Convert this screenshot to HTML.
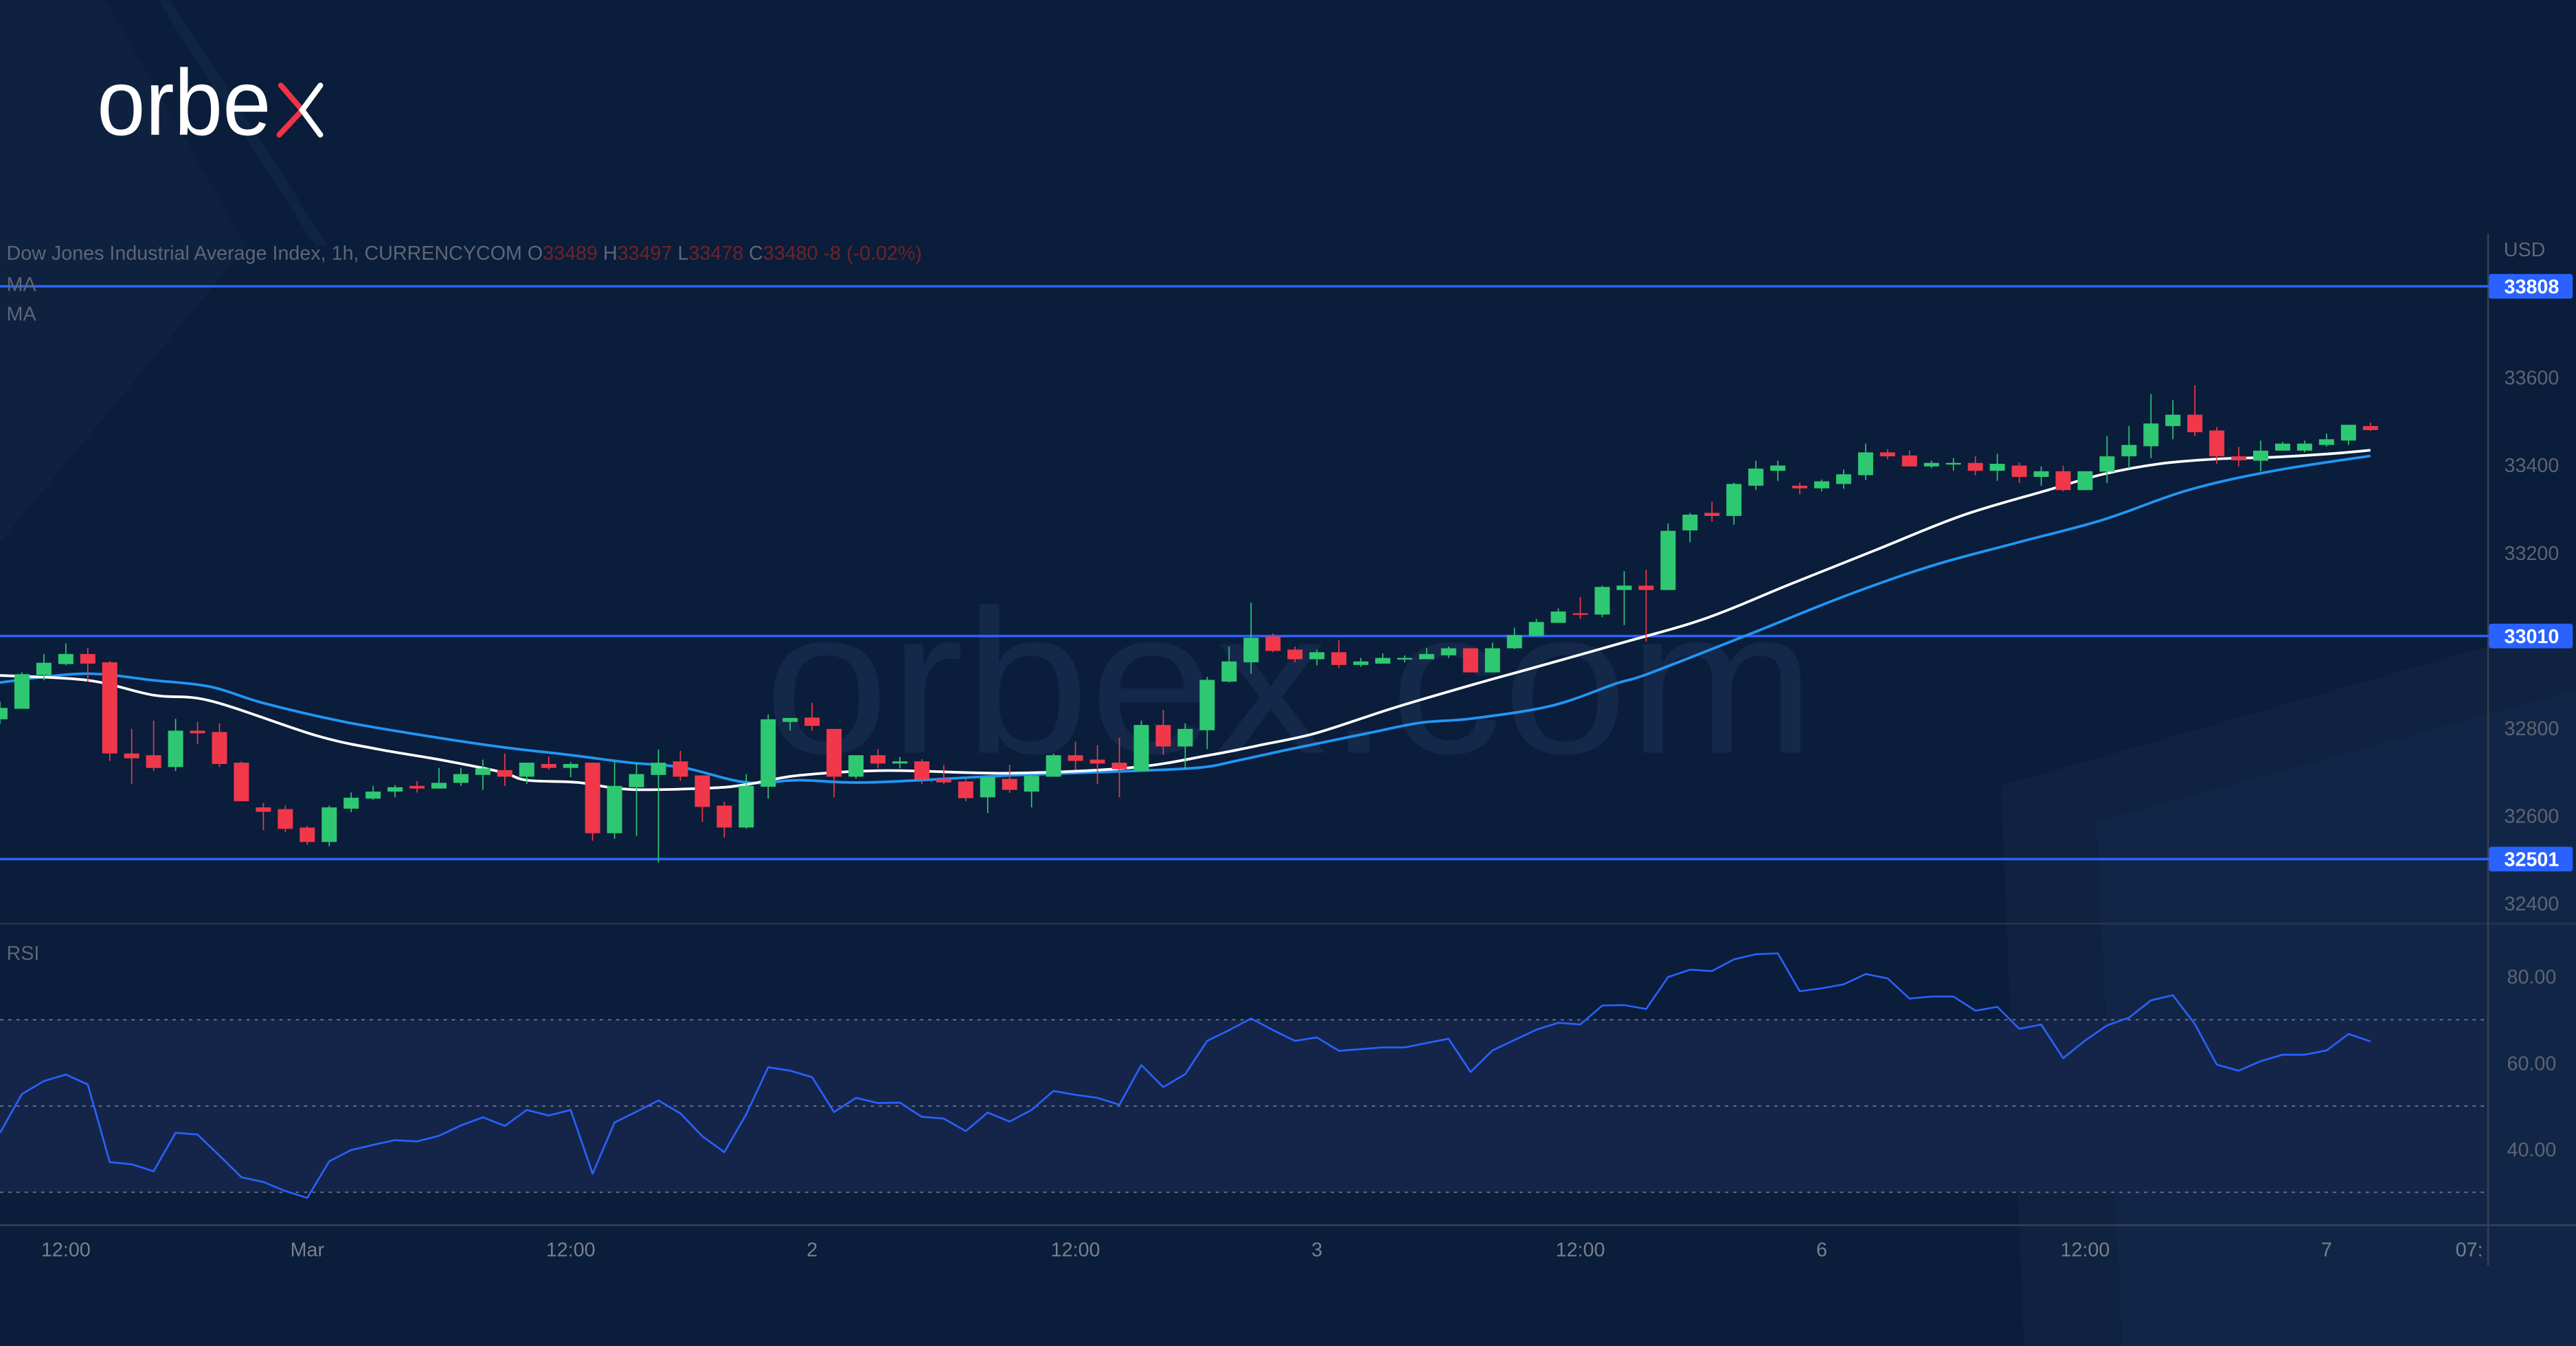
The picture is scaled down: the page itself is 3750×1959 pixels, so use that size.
<!DOCTYPE html>
<html><head><meta charset="utf-8"><title>Dow Jones 1h chart</title>
<style>
html,body{margin:0;padding:0;background:#0a1d3a;}
svg{display:block;}
text{font-family:"Liberation Sans","DejaVu Sans",sans-serif;}
</style></head>
<body>
<svg id="chart" width="3750" height="1959" viewBox="0 0 1568 819" preserveAspectRatio="none" xmlns="http://www.w3.org/2000/svg">
  <rect x="0" y="0" width="1568" height="819" fill="#0a1d3a"/>
  <g>
    <polygon points="0,0 64,0 150,150 0,330" fill="#0f2442" opacity="0.8"/>
    <polygon points="96,0 104,0 200,150 192,150" fill="#12284a" opacity="0.6"/>
    <polygon points="1218,478 1568,378 1568,819 1232,819" fill="#0f2340" opacity="0.9"/>
    <polygon points="1276,500 1568,420 1568,819 1292,819" fill="#12284a" opacity="0.7"/>
  </g>
  <text x="465" y="458" font-size="125" fill="#14284a" textLength="640" lengthAdjust="spacingAndGlyphs">orbex.com</text>
  <g>
    <text x="59" y="82" font-size="57" fill="#ffffff" textLength="106" lengthAdjust="spacingAndGlyphs">orbe</text>
    <text x="168" y="82" font-size="57" fill="none">x</text>
    <polyline points="171,52 184,67 170,82" fill="none" stroke="#ee3445" stroke-width="3.4" stroke-linecap="round"/>
    <polyline points="195,52 184,67 195,82" fill="none" stroke="#ffffff" stroke-width="3.4" stroke-linecap="round"/>
  </g>
  <rect x="0" y="620.5" width="1514" height="105" fill="#15254a"/>
  <g id="grid"></g>
  <line x1="0" y1="562" x2="1568" y2="562" stroke="#2a3446" stroke-width="1"/>
  <line x1="0" y1="745.5" x2="1568" y2="745.5" stroke="#3a4252" stroke-width="1"/>
  <line x1="1514.5" y1="142" x2="1514.5" y2="770" stroke="#3a4252" stroke-width="1"/>
  <g id="levels"></g>
  <g id="mas"></g>
  <g id="candles"></g>
  <g id="rsi"></g>
  <g id="axes"></g>
  <text x="4" y="158" font-size="12" fill="#5f6675">Dow Jones Industrial Average Index, 1h, CURRENCYCOM  O<tspan fill="#6e2424">33489</tspan>  H<tspan fill="#6e2424">33497</tspan>  L<tspan fill="#6e2424">33478</tspan>  C<tspan fill="#6e2424">33480</tspan>  <tspan fill="#6e2424">-8 (-0.02%)</tspan></text>
  <text x="4" y="177" font-size="12" fill="#5f6675">MA</text>
  <text x="4" y="195" font-size="12" fill="#5f6675">MA</text>
  <text x="4" y="584" font-size="12" fill="#5f6675">RSI</text>
  <text x="1524" y="156" font-size="12" fill="#5f6675">USD</text>
</svg>
<script>
const opens=[32820,32844,32921,32946,32969,32950,32742,32738,32711,32794,32791,32721,32619,32615,32573,32540,32616,32639,32655,32668,32662,32675,32693,32704,32689,32718,32709,32721,32560,32665,32693,32724,32692,32623,32573,32666,32814,32824,32798,32689,32738,32719,32724,32684,32678,32642,32684,32655,32689,32738,32728,32721,32702,32807,32758,32795,32906,32950,33009,32979,32957,32973,32944,32947,32957,32957,32966,32982,32927,32982,33010,33040,33062,33059,33115,33125,33115,33251,33291,33284,33353,33387,33353,33347,33357,33377,33429,33422,33397,33403,33405,33387,33399,33373,33386,33343,33385,33420,33443,33489,33515,33479,33420,33410,33433,33433,33446,33456,33489];
const highs=[32860,32927,32969,32993,32983,32953,32798,32817,32821,32814,32811,32724,32629,32623,32577,32623,32653,32668,32670,32679,32709,32709,32728,32742,32721,32735,32722,32721,32725,32721,32751,32748,32692,32632,32695,32831,32823,32858,32798,32738,32752,32734,32729,32716,32687,32690,32716,32696,32742,32769,32761,32778,32817,32841,32811,32917,32986,33086,33016,32986,32979,33000,32960,32970,32966,32983,32986,32982,32995,33029,33049,33073,33099,33125,33158,33161,33267,33291,33317,33360,33410,33410,33360,33367,33390,33449,33436,33433,33410,33416,33420,33426,33406,33397,33399,33386,33466,33489,33562,33548,33582,33487,33442,33456,33453,33456,33472,33492,33497];
const lows=[32810,32844,32909,32943,32906,32725,32672,32702,32702,32764,32711,32633,32567,32563,32533,32530,32608,32636,32642,32653,32662,32668,32659,32668,32672,32705,32688,32543,32547,32554,32493,32679,32586,32550,32570,32639,32794,32794,32642,32685,32708,32708,32672,32672,32633,32606,32652,32619,32689,32705,32672,32642,32702,32739,32706,32752,32904,32924,32973,32950,32943,32937,32940,32947,32950,32957,32960,32927,32927,32980,33010,33040,33049,33053,33035,32997,33115,33224,33271,33264,33343,33364,33333,33340,33346,33366,33413,33397,33393,33387,33377,33364,33359,33353,33340,33343,33359,33392,33416,33459,33466,33403,33397,33386,33433,33429,33442,33446,33478];
const closes=[32846,32923,32949,32969,32947,32742,32731,32709,32794,32788,32718,32633,32609,32570,32540,32619,32641,32655,32665,32662,32675,32695,32708,32689,32721,32709,32718,32560,32668,32695,32721,32689,32620,32573,32668,32820,32823,32805,32689,32738,32719,32724,32683,32676,32640,32688,32659,32691,32738,32725,32719,32706,32807,32758,32798,32910,32952,33006,32976,32957,32973,32944,32952,32960,32960,32969,32982,32927,32982,33012,33042,33066,33059,33122,33125,33115,33250,33287,33284,33357,33392,33399,33347,33363,33379,33429,33420,33397,33405,33405,33387,33403,33373,33386,33343,33386,33420,33446,33495,33515,33475,33420,33411,33433,33449,33449,33459,33492,33480];
const rsiValues=[43.8,52.8,55.8,57.3,55.0,37.0,36.5,34.9,43.8,43.4,38.5,33.5,32.4,30.3,28.7,37.2,39.8,41.0,42.1,41.8,43.1,45.5,47.4,45.4,49.1,47.8,49.1,34.3,46.2,48.7,51.3,48.3,43.0,39.3,48.1,59.0,58.2,56.7,48.6,51.9,50.7,50.8,47.5,47.1,44.2,48.5,46.4,49.1,53.5,52.6,51.9,50.3,59.5,54.4,57.4,65.1,67.6,70.3,67.6,65.1,65.9,62.8,63.2,63.6,63.6,64.6,65.6,57.9,62.9,65.3,67.7,69.3,68.9,73.3,73.4,72.5,79.9,81.6,81.3,84.0,85.2,85.4,76.6,77.3,78.2,80.6,79.6,74.9,75.4,75.4,72.1,73.0,67.9,68.9,61.1,65.2,68.7,70.5,74.5,75.7,69.0,59.6,58.2,60.4,61.9,61.9,62.9,66.7,65.0];
const maFastIdx=[0,4,7,9.6,14.4,17.2,19.9,22.8,24,26.3,28.7,32.3,34,36.4,40.4,46,51.6,55.2,57.6,60,63.5,67.1,69.9,73.8,77.7,81.6,85.5,89.4,93.3,95.8,98.4,101,103.6,106.2,108];
const maFastValues=[32920,32909,32875,32862,32783,32752,32729,32700,32681,32676,32660,32663,32671,32692,32703,32697,32710,32739,32763,32789,32846,32899,32938,32993,33050,33129,33207,33285,33343,33379,33403,33414,33418,33426,33434];
const maSlowIdx=[0,3.8,7,9.6,12,15.6,19.2,22.8,25.9,28.7,31.1,34,36.4,39.6,46,51.6,54.7,56.4,58.8,62.4,64.7,67.1,70.7,73.6,75.1,79.7,84.1,88,91.9,95.8,99.7,103.6,108];
const maSlowValues=[32904,32924,32909,32894,32857,32815,32784,32757,32739,32721,32710,32676,32681,32676,32692,32702,32710,32726,32752,32789,32812,32822,32851,32901,32924,33014,33102,33170,33223,33275,33343,33387,33421];
const levelValues=[33808,33010,32501];
const priceTicks=[33600,33400,33200,32800,32600,32400];
const rsiTicks=[80,60,40];
const rsiBands=[70,50,30];
const timeTickIdx=[3,14,26,37,49,60,72,83,95,106,112.5];
const timeTickLabels=["12:00","Mar","12:00","2","12:00","3","12:00","6","12:00","7","07:"];

const NS="http://www.w3.org/2000/svg";
const STEP=13.36;
function xScale(i){return i*STEP;}
function yPrice(p){return 283-(p-33400)*(53.333/200);}
function yRsi(r){return 673-(r-50)*2.625;}
function mk(tag,attrs,parent){const e=document.createElementNS(NS,tag);for(const k in attrs)e.setAttribute(k,attrs[k]);parent.appendChild(e);return e;}
function smoothPath(pts){let d="M"+pts[0][0].toFixed(2)+","+pts[0][1].toFixed(2);for(let i=0;i<pts.length-1;i++){const p0=pts[i-1]||pts[i],p1=pts[i],p2=pts[i+1],p3=pts[i+2]||p2;const c1x=p1[0]+(p2[0]-p0[0])/6,c1y=p1[1]+(p2[1]-p0[1])/6,c2x=p2[0]-(p3[0]-p1[0])/6,c2y=p2[1]-(p3[1]-p1[1])/6;d+=" C"+c1x.toFixed(2)+","+c1y.toFixed(2)+" "+c2x.toFixed(2)+","+c2y.toFixed(2)+" "+p2[0].toFixed(2)+","+p2[1].toFixed(2);}return d;}

const grid=document.getElementById('grid');
rsiBands.forEach(function(v){
  const l=mk('line',{x1:0,x2:1514,y1:yRsi(v),y2:yRsi(v),stroke:'#6b7384','stroke-width':0.8,'stroke-dasharray':'2,3'},grid);
  
  
});

const levels=document.getElementById('levels');
levelValues.forEach(function(v){
  const y=yPrice(v);
  const l=mk('line',{x1:0,x2:1515,y1:y,y2:y,stroke:'#2962ff','stroke-width':1.5},levels);
  
  
  const r=mk('rect',{x:1515,y:y-7.5,width:51,height:15,rx:1.5,fill:'#2962ff'},levels);
  
  
  const t=mk('text',{x:1541,y:y+4.3,'font-size':12,'font-weight':'bold',fill:'#ffffff','text-anchor':'middle'},levels);
  t.textContent=String(v);
  
  
});

const mas=document.getElementById('mas');
const slowPts=maSlowIdx.map(function(ix,k){return [xScale(ix),yPrice(maSlowValues[k])];});
const fastPts=maFastIdx.map(function(ix,k){return [xScale(ix),yPrice(maFastValues[k])];});
const slow=mk('path',{d:smoothPath(slowPts),fill:'none',stroke:'#2196f3','stroke-width':1.6},mas);


const fast=mk('path',{d:smoothPath(fastPts),fill:'none',stroke:'#ffffff','stroke-width':1.6},mas);



const cg=document.getElementById('candles');
const BW=9.2;
for(let i=0;i<opens.length;i++){
  const up=closes[i]>=opens[i];
  const col=up?'#2ec872':'#f0384a';
  const x=xScale(i);
  const g=mk('g',{},cg);
  
  
  mk('line',{x1:x,x2:x,y1:yPrice(highs[i]),y2:yPrice(lows[i]),stroke:col,'stroke-width':0.7},g);
  const yt=yPrice(Math.max(opens[i],closes[i])),yb=yPrice(Math.min(opens[i],closes[i]));
  mk('rect',{x:x-BW/2,y:yt,width:BW,height:Math.max(1,yb-yt),fill:col},g);
}

const rg=document.getElementById('rsi');
const rp=rsiValues.map(function(v,i){return xScale(i).toFixed(2)+','+yRsi(v).toFixed(2);}).join(' ');
const rl=mk('polyline',{points:rp,fill:'none',stroke:'#2962ff','stroke-width':1.1,'stroke-linejoin':'round'},rg);



const ax=document.getElementById('axes');
priceTicks.forEach(function(v){
  const t=mk('text',{x:1541,y:yPrice(v)+4.3,'font-size':12,fill:'#5d6472','text-anchor':'middle'},ax);
  t.textContent=String(v);
  
  
});
rsiTicks.forEach(function(v){
  const t=mk('text',{x:1541,y:yRsi(v)+4.3,'font-size':12,fill:'#5d6472','text-anchor':'middle'},ax);
  t.textContent=v.toFixed(2);
  
  
});
timeTickIdx.forEach(function(ix,k){
  const t=mk('text',{x:xScale(ix),y:764.5,'font-size':12,fill:'#7a808c','text-anchor':'middle'},ax);
  t.textContent=timeTickLabels[k];
  
  
});
</script>
</body></html>
